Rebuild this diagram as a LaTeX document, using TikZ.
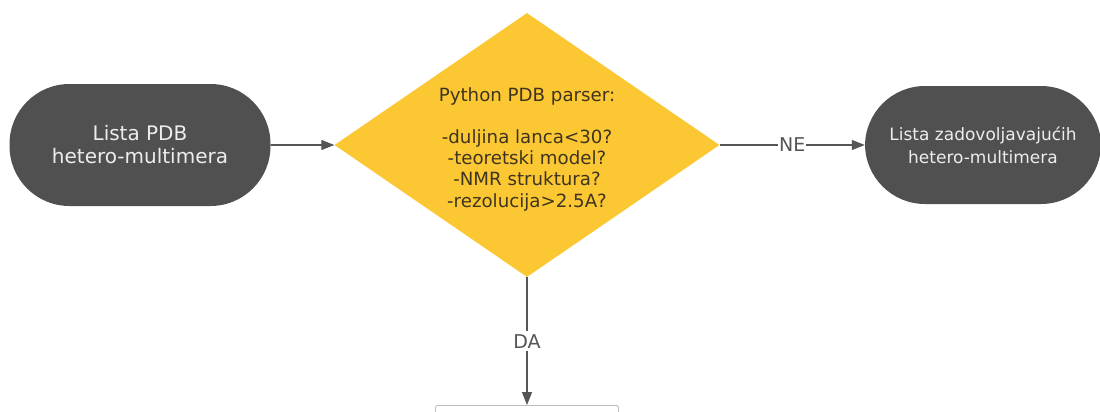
\documentclass[tikz,border=0pt]{standalone}
\usepackage{fontspec}
\setmainfont{DejaVu Sans}
\usetikzlibrary{shapes.geometric,arrows.meta}
\definecolor{pillfill}{HTML}{505050}
\definecolor{pilltext}{HTML}{EDEDED}
\definecolor{decfill}{HTML}{FBC833}
\definecolor{dectext}{HTML}{3F3420}
\definecolor{linecol}{HTML}{555555}
\definecolor{boxline}{HTML}{BDBDBD}
\tikzset{
  pill/.style={rectangle, fill=pillfill, text=pilltext, align=center,
    rounded corners=60pt, inner sep=0pt},
  flow/.style={draw=linecol, line width=1.1pt,
    -{Triangle[length=13pt,width=10pt]}},
  edgelabel/.style={fill=white, text=linecol, inner sep=1pt,
    font=\fontsize{19}{22}\selectfont},
}
\begin{document}
\begin{tikzpicture}[x=1pt,y=-1pt]
  \useasboundingbox (0,0) rectangle (1100,412);
  \clip (0,0) rectangle (1100,412);
  \fill[white] (0,0) rectangle (1100,412);

  % start terminal
  \node[pill, minimum width=261pt, minimum height=122pt,
        font=\fontsize{20}{23}\selectfont] (src) at (140,145)
        {Lista PDB\\hetero-multimera};

  % decision diamond with its checks
  \node[diamond, fill=decfill, minimum width=385pt, minimum height=264pt,
        inner sep=0pt] (dec) at (527,145) {};
  \node[text=dectext, align=center,
        font=\fontsize{18.2}{21.2}\selectfont] at (527,149)
        {Python PDB parser:\\[21.2pt]-duljina lanca<30?\\-teoretski model?\\-NMR struktura?\\-rezolucija>2.5A?};

  % accepted list terminal
  \node[pill, minimum width=236pt, minimum height=118pt,
        font=\fontsize{17}{23}\selectfont] (ok) at (983,145)
        {Lista zadovoljavajućih\\hetero-multimera};

  % next step box (continues below)
  \node[draw=boxline, line width=0.9pt, rounded corners=2pt, fill=white,
        minimum width=183pt, minimum height=60pt, anchor=north, inner sep=0pt]
        (next) at (527,405) {};

  % connectors
  \draw[flow] (src.east) -- (dec.west);
  \draw[flow] (dec.east) -- node[edgelabel] {NE} (ok.west);
  \draw[flow] (dec.south) -- node[edgelabel, inner sep=3pt, pos=0.5] {DA} (next.north);
\end{tikzpicture}
\end{document}
